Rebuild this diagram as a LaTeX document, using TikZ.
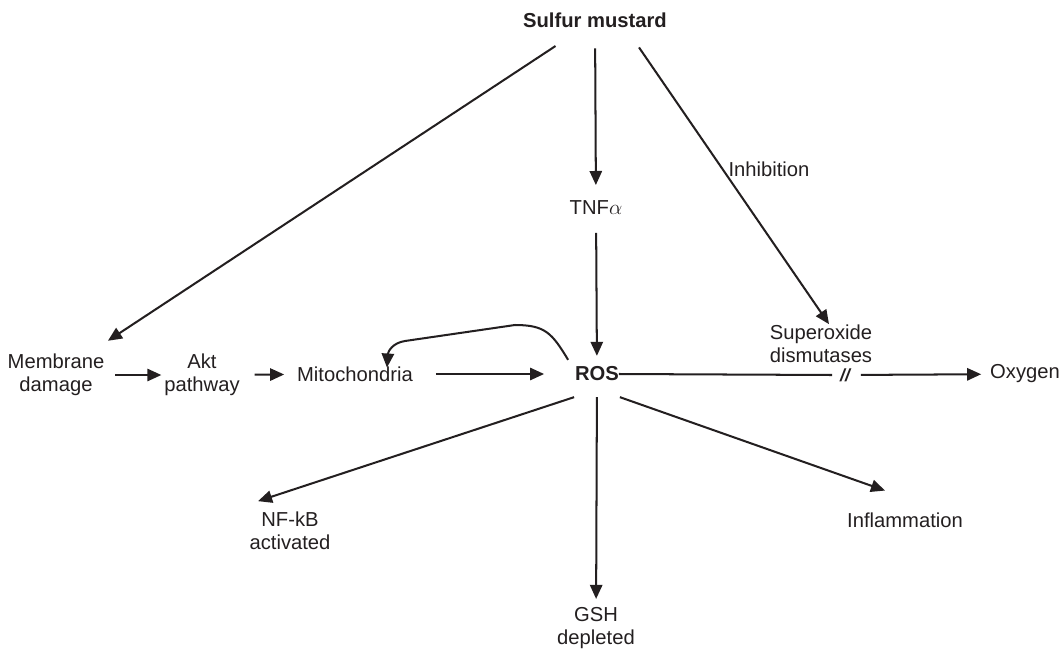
\documentclass[tikz,border=0pt]{standalone}
\usepackage{fontspec}
\setmainfont{Liberation Sans}
\usetikzlibrary{arrows.meta}
\definecolor{inkgray}{RGB}{35,31,32}

\begin{document}
\begin{tikzpicture}[x=0.02cm,y=-0.02cm,>={Triangle[length=8pt,width=7pt]},line width=1.15pt,
  color=inkgray,
  label node/.style={font=\fontsize{11.5}{13}\selectfont,align=center,inner sep=0pt},
  main node/.style={label node,font=\fontsize{11.5}{13}\selectfont\bfseries}]

  \useasboundingbox (0,0) rectangle (1061,652);

  \node[main node] (sm) at (595,20) {Sulfur mustard};
  \node[label node] (tnf) at (596,208) {TNF$\alpha$};
  \node[main node] (ros) at (597,374) {ROS};
  \node[label node] (mem) at (56,375) {Membrane\\damage};
  \node[label node] (akt) at (202,375) {Akt\\pathway};
  \node[label node] (mito) at (355,374) {Mitochondria};
  \node[label node] (sod) at (821,344) {Superoxide\\dismutases};
  \node[label node] (oxy) at (1025,374) {Oxygen};
  \node[label node] (inh) at (769,169) {Inhibition};
  \node[label node] (nfkb) at (290,531) {NF-kB\\activated};
  \node[label node] (gsh) at (596,628) {GSH\\depleted};
  \node[label node] (infl) at (905,520) {Inflammation};
  \node[label node,font=\fontsize{10}{10}\selectfont\bfseries\itshape] (brk) at (845,375) {//};

  \path[->]
    (sm) edge[shorten <=0.64cm,shorten >=0.45cm] (mem)
    (sm) edge[shorten <=0.4cm,shorten >=0.3cm] (tnf)
    (tnf) edge[shorten <=0.34cm,shorten >=0.2cm] (ros)
    (mem) edge[shorten <=0.2cm,shorten >=0.04cm] (akt)
    (akt) edge[shorten <=0.28cm,shorten >=0.24cm] (mito)
    (mito) edge[shorten <=0.44cm,shorten >=0.6cm] (ros)
    (ros) edge[shorten <=0.3cm,shorten >=0.15cm] (gsh)
    (brk) edge[shorten <=0.2cm,shorten >=0.16cm] (oxy);

  \draw[->] ([xshift=0.88cm,yshift=-0.38cm]sm.south) -- ([xshift=0.16cm]sod.north);
  \draw[->] ([yshift=-0.3cm]ros.south west) -- ([xshift=-0.64cm,yshift=0.2cm]nfkb.north);
  \draw[->] ([yshift=-0.3cm]ros.south east) -- ([xshift=-0.4cm,yshift=0.42cm]infl.north);
  \draw ([xshift=-0.02cm]ros.east) -- ([xshift=-0.14cm]brk.west);

  % feedback from ROS back to mitochondria
  \draw[->] ([xshift=-0.12cm,yshift=0.12cm]ros.north west)
    .. controls (552,333) and (545,325) .. (515,325) -- (405,341)
    .. controls (392,343) and (388,352) .. ([xshift=0.64cm,yshift=-0.04cm]mito.north);
\end{tikzpicture}
\end{document}
